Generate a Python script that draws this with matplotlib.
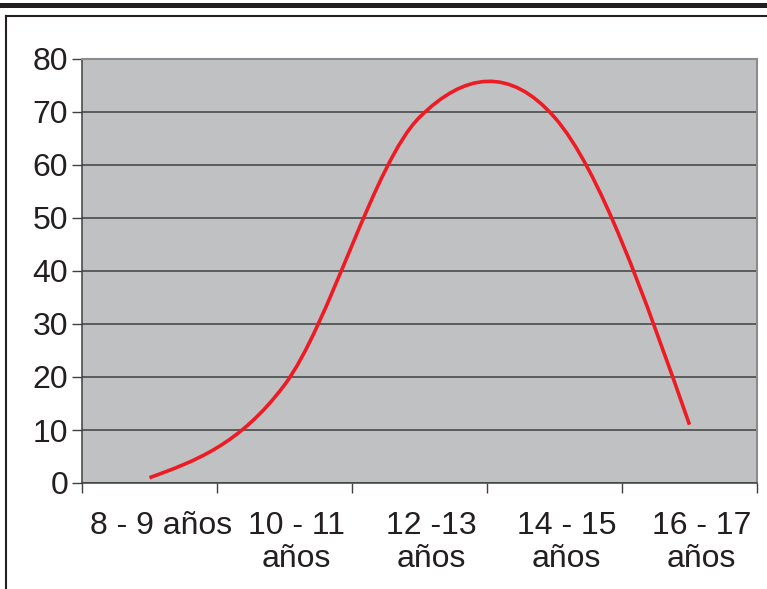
import matplotlib
matplotlib.use('Agg')
import matplotlib.pyplot as plt
import matplotlib.transforms as mtransforms
from matplotlib.path import Path
from matplotlib.patches import PathPatch
from matplotlib.lines import Line2D
import numpy as np

plt.rcParams['font.family'] = ['Liberation Sans', 'DejaVu Sans']

# datos
categorias = ['8 - 9 años', '10 - 11\naños', '12 -13\naños', '14 - 15\naños', '16 - 17\naños']
valores = [1, 18.5, 69, 69, 11]
y_ticks = [0, 10, 20, 30, 40, 50, 60, 70, 80]

texto = '#231f20'
rojo = '#ed1c24'

x = np.arange(len(categorias))
y = np.array(valores, dtype=float)

# linea suavizada estilo Excel: bezier por tramos (Catmull-Rom)
m = np.zeros_like(y)
m[1:-1] = (y[2:] - y[:-2]) / 2
m[0] = (3 * (y[1] - y[0]) - m[1]) / 2
m[-1] = (3 * (y[-1] - y[-2]) - m[-2]) / 2

verts = [(x[0], y[0])]
codes = [Path.MOVETO]
for i in range(len(x) - 1):
    verts += [(x[i] + 1/3, y[i] + m[i] / 3),
              (x[i + 1] - 1/3, y[i + 1] - m[i + 1] / 3),
              (x[i + 1], y[i + 1])]
    codes += [Path.CURVE4] * 3

fig = plt.figure(figsize=(7.67, 5.89), dpi=100)
ax = fig.add_axes([82/767, 1 - 483/589, 675/767, 424/589])
ax.set_facecolor('#c0c1c3')

ax.add_patch(PathPatch(Path(verts, codes), facecolor='none', edgecolor=rojo,
                       lw=2.6, capstyle='butt', joinstyle='round', zorder=3))

ax.set_xlim(-0.5, len(categorias) - 0.5)
ax.set_ylim(0, 80)
ax.set_yticks(y_ticks)
ax.yaxis.grid(True, color='#404040', lw=1.1)
ax.set_axisbelow(True)

ax.set_xticks(x)
ax.set_xticklabels(categorias)
ax.set_xticks(np.arange(-0.5, len(categorias), 1), minor=True)
ax.tick_params(axis='x', which='major', length=0, pad=20, labelsize=23, labelcolor=texto)
ax.tick_params(axis='x', which='minor', length=7, width=1, color='#404040')
ax.tick_params(axis='y', length=7, width=1, color='#404040', pad=3, labelsize=23, labelcolor=texto)

desplaza = mtransforms.ScaledTranslation(12/100, 0, fig.dpi_scale_trans)
for lbl in ax.get_xticklabels():
    lbl.set_transform(lbl.get_transform() + desplaza)
    lbl.set_multialignment('center')
    lbl.set_linespacing(1.15)

for lado in ['left', 'bottom']:
    ax.spines[lado].set_color('#404040')
    ax.spines[lado].set_linewidth(1.1)
for lado in ['top', 'right']:
    ax.spines[lado].set_color('#8c8c8c')
    ax.spines[lado].set_linewidth(1.5)

# marco exterior
fig.add_artist(Line2D([0, 1], [1 - 5/589, 1 - 5/589], transform=fig.transFigure,
                      color=texto, lw=3.6))
fig.add_artist(Line2D([6/767, 1], [1 - 16/589, 1 - 16/589], transform=fig.transFigure,
                      color=texto, lw=1.5))
fig.add_artist(Line2D([6/767, 6/767], [0, 1 - 16/589], transform=fig.transFigure,
                      color=texto, lw=1.5))

fig.savefig('out.png', dpi=100)
